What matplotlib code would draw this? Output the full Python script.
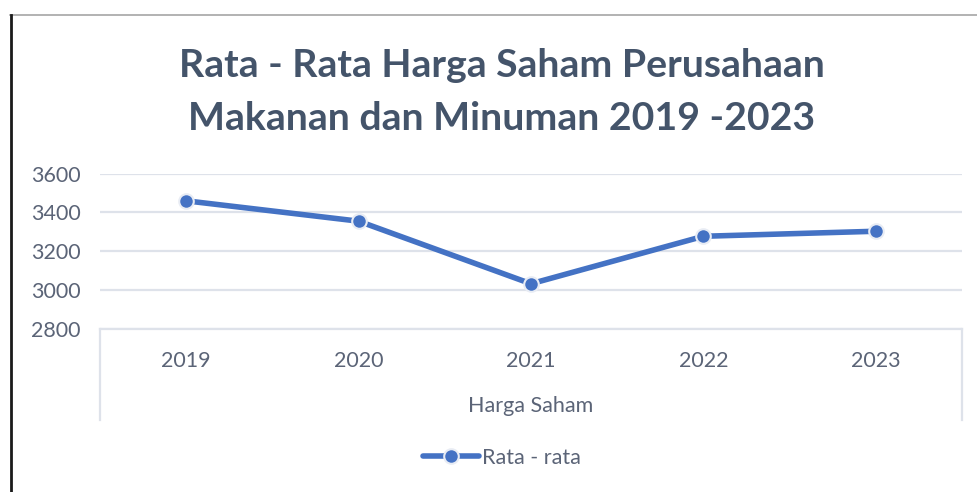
import matplotlib
matplotlib.use("Agg")
import matplotlib.pyplot as plt
from matplotlib.lines import Line2D

plt.rcParams['font.family'] = ['Lato', 'DejaVu Sans']

years = ['2019', '2020', '2021', '2022', '2023']
values = [3460, 3355, 3032, 3277, 3303]
y_ticks = [2800, 3000, 3200, 3400, 3600]
title = "Rata - Rata Harga Saham Perusahaan\nMakanan dan Minuman 2019 -2023"
x_title = "Harga Saham"
series_name = "Rata - rata"

W, H = 978, 492
DPI = 100
fig = plt.figure(figsize=(W / DPI, H / DPI), dpi=DPI)
fig.patch.set_facecolor('white')

def fx(px):
    return px / W

def fy(py):
    return 1 - py / H

ax_left, ax_right, ax_top, ax_bottom = 100, 962, 173.7, 328.7
ax = fig.add_axes([fx(ax_left), fy(ax_bottom), fx(ax_right - ax_left), (ax_bottom - ax_top) / H])

blue = '#4472C4'
grid_c = '#DEE2EA'
text_c = '#5B6477'
title_c = '#44546A'

x = list(range(len(years)))
ax.plot(x, values, color=blue, lw=4, marker='o', markersize=10.5,
        markerfacecolor=blue, markeredgecolor='#E8ECF4', markeredgewidth=1.5,
        solid_capstyle='round', zorder=3, label=series_name)

ax.set_xlim(-0.5, len(years) - 0.5)
ax.set_ylim(y_ticks[0], y_ticks[-1])
ax.set_yticks(y_ticks)
ax.set_yticklabels([str(v) for v in y_ticks])
ax.set_xticks(x)
ax.set_xticklabels(years)
ax.tick_params(axis='both', length=0, labelsize=15.5, labelcolor=text_c)
ax.tick_params(axis='y', pad=14)
ax.tick_params(axis='x', pad=16)
ax.yaxis.grid(True, color=grid_c, lw=1.6)
ax.set_axisbelow(True)
for s in ['top', 'right', 'left']:
    ax.spines[s].set_visible(False)
ax.spines['bottom'].set_color(grid_c)
ax.spines['bottom'].set_linewidth(1.6)

# category box lines below the axis
box_depth = (420 - ax_bottom) / (ax_bottom - ax_top)
for xa in (0, 1):
    ax.plot([xa, xa], [0, -box_depth], transform=ax.transAxes, color=grid_c,
            lw=1.6, clip_on=False)

fig.text(fx(531), fy(406), x_title, ha='center', va='center', fontsize=15.5, color=text_c)

fig.text(fx(502), fy(92), title, ha='center', va='center', fontsize=28.3,
         fontweight='bold', color=title_c, linespacing=1.62)

leg = fig.legend(loc='center', bbox_to_anchor=(fx(502), fy(458)), frameon=False,
                 fontsize=15.5, handlelength=2.6, handletextpad=0.15, labelcolor=text_c)

# outer frame of screenshot
fig.add_artist(Line2D([fx(10), fx(978)], [fy(15), fy(15)], color='#A6A6A6', lw=1.2))
fig.add_artist(Line2D([fx(11), fx(11)], [fy(15), fy(492)], color='#1A1A1A', lw=2))

fig.savefig('out.png', dpi=DPI, facecolor='white')
